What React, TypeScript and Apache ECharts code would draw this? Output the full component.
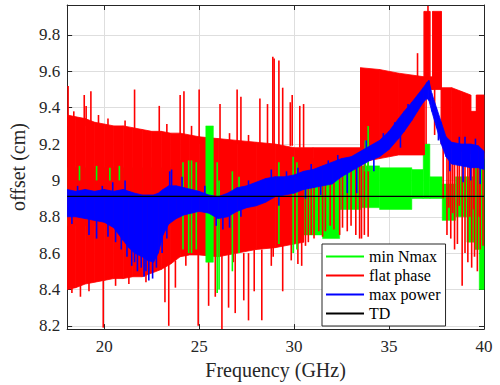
import React, { useEffect, useRef } from 'react';
import * as echarts from 'echarts';

// ---- axes ----
const X_MIN = 18.05;
const X_MAX = 40;
const Y_MIN = 8.182;
const Y_MAX = 9.965;

const seriesNames = ['min Nmax', 'flat phase', 'max power', 'TD'];

// ---- "min Nmax" (green) : [f0, f1, low, high] ----
const greenBand: number[][] = [
  [18.05, 24.0, 8.75, 9.07],
  [24.0, 25.3, 8.6, 9.11],
  [30.0, 31.5, 8.7, 9.12],
  [31.5, 32.4, 8.68, 9.15],
  [32.4, 33.5, 8.84, 9.12],
  [33.5, 34.5, 8.85, 9.08],
  [34.5, 36.2, 8.84, 9.07],
  [36.2, 36.8, 8.9, 9.06],
  [36.8, 37.15, 8.9, 9.2],
  [37.15, 37.8, 8.9, 9.02],
  [37.8, 38.5, 8.78, 8.98],
  [38.5, 39.1, 8.8, 9.02],
  [39.1, 39.5, 8.66, 9.02],
  [39.5, 39.75, 8.62, 9.3],
  [39.75, 40.0, 8.4, 9.15],
];
const greenOverlay: number[][] = [
  [25.35, 25.75, 8.55, 9.30],
];
// [f, low, high]
const greenSpikes: number[][] = [
  [24.15, 8.62, 9.1], [24.45, 8.6, 9.11], [24.6, 8.6, 9.11], [24.85, 8.62, 9.1],
  [25.95, 8.38, 9.1], [26.05, 8.4, 9.0], [26.75, 8.5, 9.05], [27.1, 8.6, 9.02],
  [29.2, 8.65, 9.1], [29.95, 8.6, 9.13], [30.15, 8.62, 9.1],
  [33.75, 9.05, 9.22], [33.9, 9.05, 9.3],
  [18.7, 9.0, 9.08], [19.6, 9.0, 9.08], [20.3, 9.0, 9.07], [20.8, 9.0, 9.08],
];

// ---- "flat phase" (red) : envelope [f, low, high] ----
const redBand: number[][] = [
  [18.05, 8.40, 9.36], [18.5, 8.41, 9.35], [19.0, 8.43, 9.34], [19.5, 8.44, 9.32],
  [20.0, 8.45, 9.31], [20.5, 8.46, 9.30], [21.0, 8.46, 9.30], [21.5, 8.47, 9.29],
  [22.0, 8.47, 9.28], [22.5, 8.49, 9.27], [23.0, 8.51, 9.27], [23.5, 8.54, 9.26],
  [24.0, 8.58, 9.26], [24.5, 8.59, 9.25], [25.0, 8.59, 9.24], [26.0, 8.58, 9.23],
  [27.0, 8.60, 9.22], [28.0, 8.62, 9.21], [29.0, 8.63, 9.20], [30.0, 8.65, 9.18],
  [30.5, 8.66, 9.18], [30.5, 8.95, 9.18], [31.0, 9.06, 9.18], [33.5, 9.08, 9.18],
  [33.5, 9.10, 9.62], [34.5, 9.12, 9.61], [35.5, 9.14, 9.59], [36.85, 9.14, 9.57],
  [36.85, 9.50, 9.93], [37.15, 9.50, 9.93], [37.15, 9.50, 9.57], [37.3, 9.50, 9.57],
  [37.3, 9.50, 9.93], [37.75, 9.50, 9.93], [37.75, 9.20, 9.51], [38.3, 9.18, 9.51],
  [38.8, 9.16, 9.49], [39.3, 9.15, 9.47], [39.3, 9.15, 9.38], [39.6, 9.14, 9.38],
  [39.6, 9.12, 9.47], [40.0, 9.12, 9.47],
];
// [f, low, high]
const redSpikes: number[][] = [
  // upward
  [18.1, 9.3, 9.52], [18.95, 9.3, 9.47], [19.05, 9.3, 9.41], [19.3, 9.3, 9.49],
  [21.6, 9.25, 9.50], [22.9, 9.25, 9.41], [24.0, 9.25, 9.47], [24.2, 9.25, 9.49],
  [25.0, 9.2, 9.50], [26.1, 9.2, 9.42], [27.0, 9.2, 9.50], [27.2, 9.2, 9.46],
  [28.2, 9.2, 9.45], [28.6, 9.2, 9.42], [28.88, 9.2, 9.68], [28.95, 9.2, 9.67],
  [29.2, 9.19, 9.66], [29.4, 9.19, 9.51], [29.8, 9.19, 9.43], [29.9, 9.19, 9.47],
  [30.3, 9.18, 9.41], [30.5, 9.18, 9.42], [36.5, 9.55, 9.70], [37.05, 9.9, 9.96],
  [18.4, 9.3, 9.38], [19.7, 9.3, 9.36], [20.2, 9.28, 9.34], [21.1, 9.28, 9.33],
  [23.3, 9.25, 9.31], [24.6, 9.24, 9.3], [25.6, 9.22, 9.28], [26.6, 9.2, 9.26],
  [27.6, 9.2, 9.25],
  // downward
  [18.75, 8.36, 8.45], [19.95, 8.19, 8.45], [23.2, 8.33, 8.55], [23.4, 8.2, 8.55],
  [23.75, 8.41, 8.56], [24.95, 8.2, 8.6], [25.5, 8.31, 8.6], [25.85, 8.36, 8.6],
  [26.2, 8.18, 8.6], [26.55, 8.30, 8.6], [26.9, 8.27, 8.6], [27.35, 8.34, 8.6],
  [27.6, 8.23, 8.6], [27.9, 8.39, 8.62], [28.3, 8.23, 8.62], [28.8, 8.53, 8.63],
  [29.4, 8.39, 8.64], [29.85, 8.56, 8.66], [30.2, 8.54, 8.66], [30.4, 8.53, 8.66],
  [18.3, 8.38, 8.42], [19.2, 8.39, 8.44], [20.6, 8.42, 8.47], [21.3, 8.43, 8.47],
  [22.2, 8.44, 8.48], [24.3, 8.53, 8.6], [26.8, 8.55, 8.6], [28.9, 8.58, 8.64],
  [30.6, 8.64, 9.1], [30.75, 8.66, 9.1], [30.9, 8.7, 9.1], [31.05, 8.68, 9.1],
  [31.3, 8.72, 9.1], [31.5, 8.69, 9.1], [31.65, 8.72, 9.1], [31.9, 8.75, 9.1],
  [32.1, 8.73, 9.1], [32.4, 8.7, 9.1], [32.55, 8.74, 9.1], [32.8, 8.72, 9.1],
  [33.0, 8.75, 9.1], [33.25, 8.70, 9.1], [33.45, 8.68, 9.1], [33.55, 8.68, 9.5],
  [33.7, 8.70, 9.5], [33.9, 8.69, 9.5], [36.95, 9.2, 9.55], [37.4, 9.25, 9.55],
  [37.85, 8.9, 9.2], [38.05, 8.7, 9.2], [38.25, 8.68, 9.2], [38.45, 8.62, 9.2],
  [38.6, 8.65, 9.2], [38.85, 8.42, 9.2], [39.0, 8.6, 9.2], [39.15, 8.55, 9.2],
  [39.35, 8.52, 9.2], [39.5, 8.58, 9.2], [39.65, 8.5, 9.2], [39.8, 8.62, 9.2],
  [39.95, 8.64, 9.2], [38.15, 8.85, 9.2], [38.35, 8.82, 9.2], [38.7, 8.86, 9.2],
  [39.25, 8.8, 9.2], [39.45, 8.84, 9.2], [39.75, 8.8, 9.2],
];

// ---- "max power" (blue) : envelope [f, low, high] ----
const blueBand: number[][] = [
  [18.05, 8.80, 8.95], [18.5, 8.80, 8.94], [19.0, 8.79, 8.95], [19.5, 8.78, 8.94],
  [20.0, 8.77, 8.95], [20.5, 8.74, 8.94], [21.0, 8.67, 8.95], [21.3, 8.63, 8.94],
  [21.6, 8.60, 8.93], [22.0, 8.58, 8.92], [22.3, 8.56, 8.92], [22.6, 8.55, 8.92],
  [22.85, 8.60, 8.93], [23.1, 8.70, 8.95], [23.4, 8.76, 8.97], [23.8, 8.79, 8.97],
  [24.2, 8.81, 8.96], [24.6, 8.82, 8.95], [25.0, 8.83, 8.94], [25.5, 8.82, 8.92],
  [26.0, 8.79, 8.91], [26.5, 8.80, 8.93], [27.0, 8.83, 8.96], [27.5, 8.85, 8.97],
  [28.0, 8.86, 8.99], [28.5, 8.88, 9.01], [29.0, 8.91, 9.02], [29.5, 8.92, 9.02],
  [30.0, 8.93, 9.03], [30.5, 8.95, 9.05], [31.0, 8.96, 9.06], [31.5, 8.97, 9.08],
  [32.0, 8.98, 9.10], [32.5, 9.02, 9.12], [33.0, 9.05, 9.13], [33.5, 9.08, 9.16],
  [34.0, 9.11, 9.19], [34.5, 9.13, 9.22], [35.0, 9.17, 9.27], [35.5, 9.23, 9.34],
  [35.8, 9.27, 9.38], [36.2, 9.33, 9.43], [36.5, 9.38, 9.47], [36.8, 9.43, 9.51],
  [37.0, 9.45, 9.54], [37.1, 9.44, 9.55], [37.25, 9.38, 9.48], [37.5, 9.29, 9.40],
  [37.75, 9.20, 9.32], [38.0, 9.13, 9.24], [38.3, 9.09, 9.21], [38.8, 9.08, 9.20],
  [39.3, 9.07, 9.20], [39.7, 9.07, 9.19], [40.0, 9.06, 9.16],
];
// [f, low, high]
const blueSpikes: number[][] = [
  [18.3, 8.76, 8.85], [19.2, 8.70, 8.85], [19.6, 8.68, 8.85], [20.2, 8.69, 8.85],
  [20.6, 8.66, 8.85], [20.9, 8.62, 8.85], [21.2, 8.58, 8.8], [21.45, 8.53, 8.8],
  [21.75, 8.50, 8.7], [22.1, 8.47, 8.7], [22.35, 8.45, 8.7], [22.55, 8.46, 8.7],
  [22.75, 8.52, 8.7], [23.05, 8.60, 8.8], [23.3, 8.68, 8.85], [25.9, 8.75, 8.85],
  [26.25, 8.73, 8.85], [26.6, 8.74, 8.85], [27.2, 8.8, 8.9], [21.95, 8.52, 8.7],
  [22.2, 8.5, 8.7], [21.6, 8.55, 8.7],
  [18.6, 8.9, 8.97], [20.45, 8.9, 8.99], [21.1, 8.9, 9.0], [23.45, 8.95, 9.05],
  [23.55, 8.95, 9.06], [24.1, 8.95, 9.02], [28.8, 9.0, 9.06], [29.6, 9.0, 9.05],
  [31.8, 9.05, 9.11], [32.3, 9.07, 9.14], [38.7, 9.15, 9.24], [19.9, 8.9, 8.97],
  [25.3, 8.9, 8.97], [27.6, 8.95, 9.0], [30.2, 9.0, 9.07], [30.9, 9.02, 9.09],
  [33.8, 9.15, 9.22], [34.7, 9.2, 9.26], [35.3, 9.25, 9.32], [36.0, 9.35, 9.42],
  [39.0, 9.15, 9.24], [39.55, 9.15, 9.23],
  [32.8, 8.93, 9.05], [33.3, 8.93, 9.07], [38.9, 8.99, 9.1], [39.3, 9.0, 9.1],
  [39.8, 8.98, 9.1], [29.2, 8.86, 8.95], [30.6, 8.9, 8.97], [31.4, 8.92, 9.0],
  [34.2, 9.05, 9.13], [35.6, 9.18, 9.26], [37.6, 9.22, 9.3], [38.2, 9.05, 9.12],
];

// ---- "TD" (black) ----
const tdFreqs = [18.05, 40];
const tdValue = 8.912;

const COLORS: Record<string, string> = {
  'min Nmax': '#00ff00',
  'flat phase': '#ff0000',
  'max power': '#0000ff',
  TD: '#000000',
};

const FONT = '"Liberation Serif", "Times New Roman", serif';
const AXIS_COLOR = '#262626';

function rectRenderer(color: string) {
  return (_params: any, api: any) => {
    const p0 = api.coord([api.value(0), api.value(3)]);
    const p1 = api.coord([api.value(1), api.value(2)]);
    return {
      type: 'rect',
      shape: { x: p0[0], y: p0[1], width: p1[0] - p0[0], height: p1[1] - p0[1] },
      style: { fill: color, stroke: color, lineWidth: 0.5 },
    };
  };
}

function spikeRenderer(color: string, width: number) {
  return (_params: any, api: any) => {
    const a = api.coord([api.value(0), api.value(1)]);
    const b = api.coord([api.value(0), api.value(2)]);
    return {
      type: 'line',
      shape: { x1: a[0], y1: a[1], x2: b[0], y2: b[1] },
      style: { stroke: color, lineWidth: width },
    };
  };
}

function bandRenderer(rows: number[][], color: string) {
  return (params: any, api: any) => {
    const i = params.dataIndex;
    if (i >= rows.length - 1) return null;
    const [x0, l0, h0] = rows[i];
    const [x1, l1, h1] = rows[i + 1];
    const pts = [api.coord([x0, h0]), api.coord([x1, h1]), api.coord([x1, l1]), api.coord([x0, l0])];
    return {
      type: 'polygon',
      shape: { points: pts },
      style: { fill: color, stroke: color, lineWidth: 0.8 },
    };
  };
}

const tickRich = { t: { fontFamily: FONT, fontSize: 17, color: AXIS_COLOR } };

export default function App() {
  const ref = useRef<HTMLDivElement>(null);

  useEffect(() => {
    if (!ref.current) return;
    const chart = echarts.init(ref.current, undefined, { renderer: 'svg' });

    const green = COLORS['min Nmax'];
    const red = COLORS['flat phase'];
    const blue = COLORS['max power'];

    const baseX = { type: 'value', min: X_MIN, max: X_MAX, splitNumber: 5 };
    const baseY = { type: 'value', min: Y_MIN, max: Y_MAX, splitNumber: 9 };

    const option: any = {
      animation: false,
      backgroundColor: '#ffffff',
      textStyle: { fontFamily: FONT },
      grid: { left: 63, top: 5, width: 421, height: 325 },
      xAxis: [
        {
          ...baseX,
          position: 'bottom',
          name: 'Frequency (GHz)',
          nameLocation: 'middle',
          nameGap: 29,
          nameTextStyle: { fontFamily: FONT, fontSize: 20, color: AXIS_COLOR },
          axisLine: { show: true, onZero: false, lineStyle: { color: AXIS_COLOR, width: 1 } },
          axisTick: { show: true, inside: true, length: 5, lineStyle: { color: AXIS_COLOR } },
          axisLabel: {
            fontFamily: FONT, fontSize: 17, color: AXIS_COLOR, margin: 9,
            showMinLabel: false,
            formatter: (v: number) => `{t|${Math.round(v)}}`,
            rich: tickRich,
          },
          splitLine: { show: true, lineStyle: { color: '#dedede', width: 1 } },
        },
        {
          ...baseX,
          position: 'top',
          axisLine: { show: true, onZero: false, lineStyle: { color: AXIS_COLOR, width: 1 } },
          axisTick: { show: true, inside: true, length: 5, lineStyle: { color: AXIS_COLOR } },
          axisLabel: { show: false },
          splitLine: { show: false },
        },
      ],
      yAxis: [
        {
          ...baseY,
          position: 'left',
          name: 'offset (cm)',
          nameLocation: 'middle',
          nameGap: 31,
          nameTextStyle: { fontFamily: FONT, fontSize: 20, color: AXIS_COLOR },
          axisLine: { show: true, onZero: false, lineStyle: { color: AXIS_COLOR, width: 1 } },
          axisTick: { show: true, inside: true, length: 5, lineStyle: { color: AXIS_COLOR } },
          axisLabel: {
            fontFamily: FONT, fontSize: 17, color: AXIS_COLOR, margin: 7,
            showMinLabel: false, showMaxLabel: false,
            formatter: (v: number) => `{t|${Math.round(v * 10) / 10}}`,
            rich: tickRich,
          },
          splitLine: { show: true, lineStyle: { color: '#dedede', width: 1 } },
        },
        {
          ...baseY,
          position: 'right',
          axisLine: { show: true, onZero: false, lineStyle: { color: AXIS_COLOR, width: 1 } },
          axisTick: { show: true, inside: true, length: 5, lineStyle: { color: AXIS_COLOR } },
          axisLabel: { show: false },
          splitLine: { show: false },
        },
      ],
      legend: {
        orient: 'vertical',
        left: 322,
        top: 244,
        selectedMode: false,
        itemWidth: 38,
        itemHeight: 2,
        itemGap: 0,
        padding: [3, 5, 3, 4],
        borderColor: AXIS_COLOR,
        borderWidth: 1,
        borderRadius: 0,
        backgroundColor: '#ffffff',
        formatter: (name: string) => `{t|${name}}`,
        textStyle: {
          fontFamily: FONT, fontSize: 16, color: '#000000', lineHeight: 19,
          rich: { t: { fontFamily: FONT, fontSize: 16, color: '#000000', lineHeight: 19 } },
        },
        data: seriesNames.map((n) => ({ name: n, icon: 'rect', itemStyle: { color: COLORS[n] } })),
      },
      series: [
        {
          type: 'custom', name: 'min Nmax', clip: true,
          itemStyle: { color: green },
          encode: { x: [0, 1], y: [2, 3] },
          data: greenBand,
          renderItem: rectRenderer(green),
        },
        {
          type: 'custom', name: 'flat phase', clip: true,
          itemStyle: { color: red },
          encode: { x: 0, y: [1, 2] },
          data: redBand,
          renderItem: bandRenderer(redBand, red),
        },
        {
          type: 'custom', name: 'flat phase', clip: true,
          itemStyle: { color: red },
          encode: { x: 0, y: [1, 2] },
          data: redSpikes,
          renderItem: spikeRenderer(red, 1.6),
        },
        {
          type: 'custom', name: 'min Nmax', clip: true,
          itemStyle: { color: green },
          encode: { x: [0, 1], y: [2, 3] },
          data: greenOverlay,
          renderItem: rectRenderer(green),
        },
        {
          type: 'custom', name: 'min Nmax', clip: true,
          itemStyle: { color: green },
          encode: { x: 0, y: [1, 2] },
          data: greenSpikes,
          renderItem: spikeRenderer(green, 1.6),
        },
        {
          type: 'custom', name: 'max power', clip: true,
          itemStyle: { color: blue },
          encode: { x: 0, y: [1, 2] },
          data: blueBand,
          renderItem: bandRenderer(blueBand, blue),
        },
        {
          type: 'custom', name: 'max power', clip: true,
          itemStyle: { color: blue },
          encode: { x: 0, y: [1, 2] },
          data: blueSpikes,
          renderItem: spikeRenderer(blue, 1.6),
        },
        {
          type: 'line', name: 'TD',
          data: tdFreqs.map((f) => [f, tdValue]),
          symbol: 'none',
          lineStyle: { color: COLORS.TD, width: 1.2 },
          itemStyle: { color: COLORS.TD },
        },
      ],
    };

    chart.setOption(option);
    return () => chart.dispose();
  }, []);

  return (
    <div
      ref={ref}
      style={{ position: 'absolute', left: 0, top: 0, width: 500, height: 385, background: '#fff' }}
    />
  );
}
